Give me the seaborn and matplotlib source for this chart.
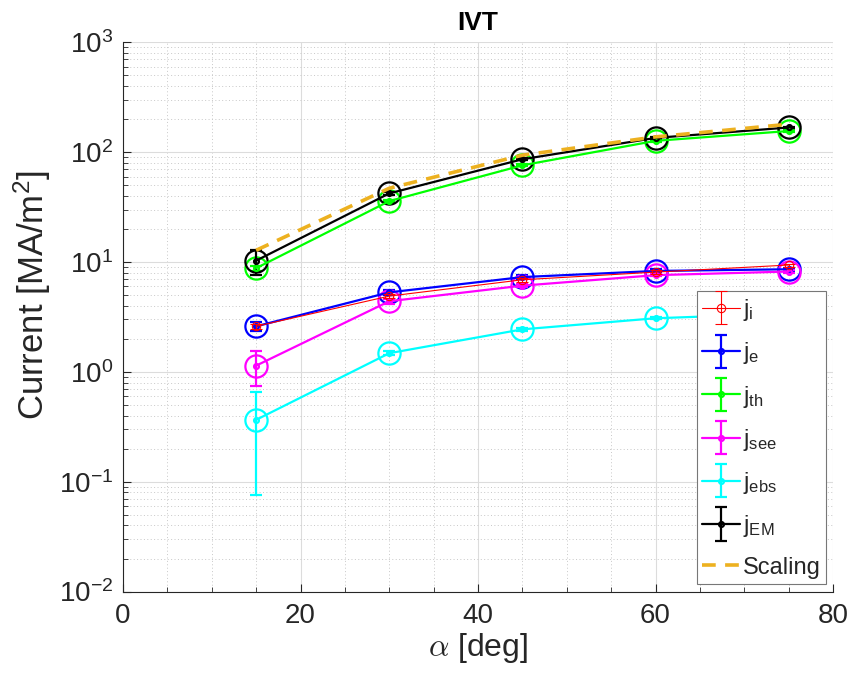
import numpy as np
import pandas as pd
import matplotlib
matplotlib.use("Agg")
import matplotlib.pyplot as plt
import seaborn as sns
from matplotlib.ticker import LogLocator, MultipleLocator, NullFormatter
from matplotlib.legend_handler import HandlerErrorbar

# ---------------- data ----------------
alpha_deg = [15, 30, 45, 60, 75]

j_i = [2.6, 4.9, 6.9, 8.1, 9.4]
j_i_err = [0.15, 0.2, 0.25, 0.3, 0.3]

j_e = [2.6, 5.3, 7.3, 8.3, 8.6]
j_e_err = [0.25, 0.3, 0.3, 0.3, 0.3]

j_th = [8.8, 35.9, 76.0, 127.0, 156.0]
j_th_err = [0.5, 1.0, 1.5, 2.0, 2.0]

j_see = [1.14, 4.4, 6.1, 7.6, 8.2]
j_see_err = [0.40, 0.25, 0.2, 0.2, 0.2]

j_ebs = [0.366, 1.48, 2.44, 3.08, 3.4]
j_ebs_err = [0.29, 0.06, 0.08, 0.08, 0.08]

j_EM = [10.3, 42.2, 86.3, 135.0, 168.0]
j_EM_err = [2.6, 1.0, 1.5, 2.0, 2.0]

scaling = [12.8, 47.0, 94.0, 138.0, 180.0]

series_names = ["j_i", "j_e", "j_th", "j_see", "j_ebs", "j_EM"]
legend_labels = [r"$\mathrm{j_{i}}$", r"$\mathrm{j_{e}}$", r"$\mathrm{j_{th}}$",
                 r"$\mathrm{j_{see}}$", r"$\mathrm{j_{ebs}}$", r"$\mathrm{j_{EM}}$", "Scaling"]

# ---------------- style ----------------
sns.set_theme(style="white")
plt.rcParams["font.family"] = ["Liberation Sans", "DejaVu Sans"]
plt.rcParams["mathtext.fontset"] = "custom"
plt.rcParams["mathtext.rm"] = "Liberation Sans"
plt.rcParams["mathtext.it"] = "Liberation Sans:italic"
plt.rcParams["mathtext.default"] = "it"
plt.rcParams["axes.unicode_minus"] = False

TXT = "#262626"
colors = {"j_i": "#ff0000", "j_e": "#0000ff", "j_th": "#00ff00",
          "j_see": "#ff00ff", "j_ebs": "#00ffff", "j_EM": "#000000"}
scal_color = "#EDB120"

values = {"j_i": (j_i, j_i_err), "j_e": (j_e, j_e_err), "j_th": (j_th, j_th_err),
          "j_see": (j_see, j_see_err), "j_ebs": (j_ebs, j_ebs_err), "j_EM": (j_EM, j_EM_err)}

fig = plt.figure(figsize=(8.66, 6.73), dpi=100)
ax = fig.add_axes([0.142, 0.121, 0.820, 0.816])
ax.set_yscale("log")

handles = []
for name in series_names:
    y, e = values[name]
    c = colors[name]
    if name == "j_i":
        cont = ax.errorbar(alpha_deg, y, yerr=e, fmt="-o", color=c, lw=0.8, ms=6,
                           mfc="none", mew=0.8, capsize=4, elinewidth=0.8, capthick=0.8, zorder=4)
    else:
        cont = ax.errorbar(alpha_deg, y, yerr=e, fmt="-o", color=c, lw=1.6, ms=3.5,
                           mfc="none", mew=1.6, capsize=4, elinewidth=1.6, capthick=1.6, zorder=3)
        df = pd.DataFrame({"x": alpha_deg, "y": y})
        sns.lineplot(data=df, x="x", y="y", ax=ax, marker="o", markersize=16,
                     markerfacecolor="none", markeredgecolor=c, markeredgewidth=1.6,
                     linestyle="", color=c, legend=False, zorder=3)
    handles.append(cont)

df_s = pd.DataFrame({"x": alpha_deg, "y": scaling})
sns.lineplot(data=df_s, x="x", y="y", ax=ax, color=scal_color, lw=2.6, legend=False, zorder=5)
scal_line = ax.lines[-1]
scal_line.set_linestyle((0, (3.8, 2.6)))
handles.append(scal_line)

# ---------------- axes ----------------
ax.set_xlim(0, 80)
ax.set_ylim(1e-2, 1e3)
ax.xaxis.set_major_locator(MultipleLocator(20))
ax.xaxis.set_minor_locator(MultipleLocator(5))
ax.yaxis.set_major_locator(LogLocator(base=10, numticks=10))
ax.yaxis.set_minor_locator(LogLocator(base=10, subs=np.arange(2, 10), numticks=20))
ax.yaxis.set_minor_formatter(NullFormatter())

ax.grid(True, which="major", color="#dcdcdc", lw=0.8, ls="-", zorder=0)
ax.grid(True, which="minor", color="#c8c8c8", lw=0.7, ls=(0, (1, 2.5)), zorder=0)
ax.set_axisbelow(True)

for s in ["top", "right"]:
    ax.spines[s].set_visible(False)
for s in ["left", "bottom"]:
    ax.spines[s].set_color(TXT)
    ax.spines[s].set_linewidth(0.8)

ax.tick_params(which="both", direction="in", colors=TXT, labelcolor=TXT, left=True, bottom=True)
ax.tick_params(which="major", length=6, width=0.8, labelsize=20)
ax.tick_params(axis="x", which="major", pad=8)
ax.tick_params(axis="y", which="major", pad=7)
ax.tick_params(which="minor", length=3.5, width=0.6)

ax.set_xlabel(r"$\alpha$ [deg]", fontsize=23, color=TXT, math_fontfamily="cm", labelpad=2)
ax.set_ylabel(r"Current [MA/m$\mathrm{^{2}}$]", fontsize=25, color=TXT)
ax.yaxis.set_label_coords(-0.098, 0.54)
ax.set_title("IVT", fontsize=19, fontweight="bold", color="black", pad=9)

leg = ax.legend(handles, legend_labels, loc="lower right", bbox_to_anchor=(0.9905, 0.013),
                fontsize=17, frameon=True, fancybox=False, framealpha=1,
                edgecolor="#777777", handlelength=1.6, handletextpad=0.1,
                labelspacing=0.73, borderpad=0.25, borderaxespad=0.0,
                handler_map={type(handles[0]): HandlerErrorbar(yerr_size=0.7)})
leg.get_frame().set_linewidth(0.8)

fig.savefig("out.png", dpi=100)
